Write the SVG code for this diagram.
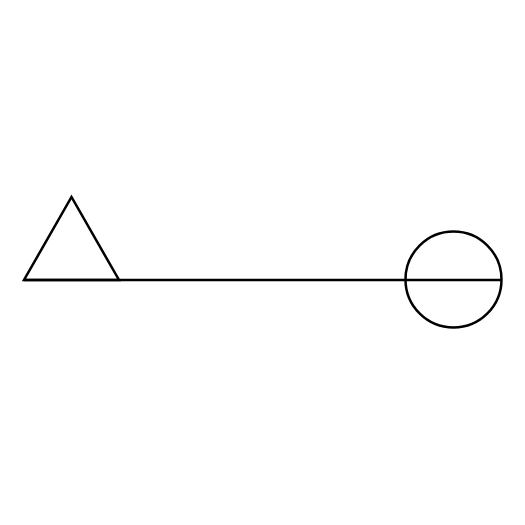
<svg xmlns="http://www.w3.org/2000/svg" width="525" height="525" viewBox="0 0 525 525">
<style>
.s{fill:none;stroke:#000;stroke-width:2.5;stroke-linejoin:miter}
</style>
<rect width="525" height="525" fill="#fff"/>
<g id="connectors">
<line class="s" x1="24" y1="280" x2="501.5" y2="280"/>
</g>
<g id="triangle">
<polygon class="s" points="24,280 119,280 71.5,197"/>
</g>
<g id="circle">
<circle class="s" cx="453.5" cy="279.5" r="48"/>
</g>
</svg>
